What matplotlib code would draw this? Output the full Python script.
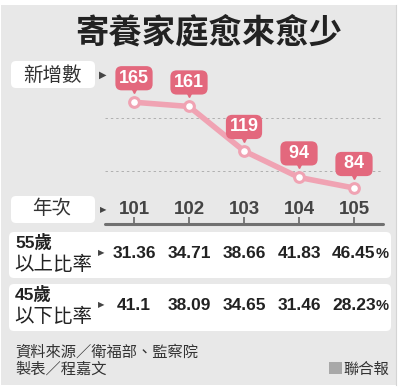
import matplotlib
matplotlib.use('Agg')
import matplotlib.pyplot as plt
import matplotlib.transforms as mtransforms
from matplotlib.patches import FancyBboxPatch, Rectangle

plt.rcParams['font.family'] = ['Liberation Sans', 'Noto Sans CJK TC', 'DejaVu Sans']

# ---- data ----
title = '寄養家庭愈來愈少'
years = ['101', '102', '103', '104', '105']
new_families = [165, 161, 119, 94, 84]
ratio_55_up = ['31.36', '34.71', '38.66', '41.83', '46.45']
ratio_45_down = ['41.1', '38.09', '34.65', '31.46', '28.23']
row_labels = [('55歲', '以上比率'), ('45歲', '以下比率')]
source_lines = ['資料來源／衛福部、監察院', '製表／程嘉文']
brand = '聯合報'

# ---- style ----
BG = '#e8e8e8'
LINE = '#f0a3b3'
TAG = '#e3687d'
DARK = '#222222'
CJK = ['Noto Sans CJK TC', 'DejaVu Sans']
ARROW_FONT = ['DejaVu Sans']

W, H = 399, 387
fig = plt.figure(figsize=(W / 100, H / 100), dpi=100, facecolor='white')

# canvas in pixel units for panels and text
bg = fig.add_axes([0, 0, 1, 1])
bg.set_xlim(0, W)
bg.set_ylim(H, 0)
bg.axis('off')
bg.add_patch(Rectangle((1, 5), 395, 380, fc=BG, ec='none'))
bg.plot([396, 396], [5, 385], color='#d4d4d4', lw=0.8)


def rbox(x0, y0, x1, y1, r=5):
    bg.add_patch(FancyBboxPatch((x0 + r, y0 + r), x1 - x0 - 2 * r, y1 - y0 - 2 * r,
                                boxstyle=f'round,pad={r}', fc='white', ec='none'))


def arrow(x, y, size=7):
    bg.text(x, y, '▶', fontsize=size, family=ARROW_FONT, color='#444444',
            ha='center', va='center')


bg.text(209, 33, title, ha='center', va='center', fontsize=24,
        fontweight='black', color=DARK, family=CJK)

rbox(11, 61, 95, 88)
bg.text(52, 75, '新增數', ha='center', va='center', fontsize=14,
        fontweight='medium', color='#333333', family=CJK)
arrow(103, 75)

rbox(11, 196, 95, 223)
bg.text(52, 209, '年次', ha='center', va='center', fontsize=14,
        fontweight='medium', color='#333333', family=CJK)
arrow(103, 210, 6)

# ---- line chart ----
ax = fig.add_axes([105 / W, (H - 224) / H, 278 / W, (224 - 62) / H])
ax.patch.set_alpha(0)
x = list(range(len(years)))
ax.set_xlim(-29 / 55, len(years) - 1 + 29 / 55)
ax.set_ylim(50, 203)
for s in ('top', 'left', 'right'):
    ax.spines[s].set_visible(False)
ax.spines['bottom'].set_color('#707070')
ax.spines['bottom'].set_linewidth(2.2)
ax.spines['bottom'].set_capstyle('round')
ax.set_xticks(x)
ax.set_yticks([])
ax.tick_params(axis='x', direction='in', length=5, width=1.3,
               color='#707070', labelbottom=False)

for gv in (100, 150):
    ax.axhline(gv, color='#b0b0b0', lw=0.7, ls=(0, (2.5, 3)), zorder=1)

ax.plot(x, new_families, color=LINE, lw=4, zorder=3, solid_capstyle='round',
        marker='o', ms=7, mfc='white', mec=LINE, mew=2.2)

pointer = mtransforms.offset_copy(ax.transData, fig=fig, x=0, y=13, units='dots')
ax.plot(x, new_families, ls='none', marker='v', ms=6, color=TAG,
        transform=pointer, zorder=4)
for xi, v in zip(x, new_families):
    label = str(v)
    # tags keep a three-digit width; a space is half a digit wide
    pad = ' ' * (3 - len(label))
    ax.annotate(pad + label + pad, xy=(xi, v), xytext=(0, 24),
                textcoords='offset pixels', ha='center', va='center',
                fontsize=13, fontweight='bold', color='white', zorder=5,
                bbox=dict(boxstyle='round,pad=0.2,rounding_size=0.35',
                          fc=TAG, ec='none'))

# year labels and table values share the chart's x scale
col = mtransforms.blended_transform_factory(ax.transData, bg.transData)
for xi, yr in zip(x, years):
    bg.text(xi, 210, yr, transform=col, ha='center', va='center',
            fontsize=13.5, fontweight='bold', color='#444444')

# ---- ratio table ----
rows = [(232, 278, ratio_55_up), (284, 331, ratio_45_down)]
for (top, bottom, vals), (l1, l2) in zip(rows, row_labels):
    rbox(9, top, 391, bottom)
    bg.text(15, top + 10, l1, ha='left', va='center', fontsize=12.5,
            fontweight='bold', color=DARK)
    bg.text(14, top + 33, l2, ha='left', va='center', fontsize=14,
            color=DARK, family=CJK)
    yv = top + 21
    arrow(101, yv, 6)
    for xi, val in zip(x, vals):
        t = bg.text(xi, yv, val, transform=col, ha='center', va='center',
                    fontsize=12.5, fontweight='bold', color=DARK)
    bg.annotate('%', xy=(1, 0), xycoords=t, ha='left', va='bottom',
                fontsize=10.5, fontweight='bold', color=DARK)

# ---- footer ----
bg.text(15, 352, source_lines[0], ha='left', va='center', fontsize=11,
        color='#333333', family=CJK)
bg.text(15, 369, source_lines[1], ha='left', va='center', fontsize=11,
        color='#333333', family=CJK)
bg.add_patch(Rectangle((329, 362), 13, 12, fc='#a8a8a8', ec='none'))
bg.text(389, 369, brand, ha='right', va='center', fontsize=11,
        color='#333333', family=CJK)

fig.savefig('out.png', dpi=100, facecolor='white')
